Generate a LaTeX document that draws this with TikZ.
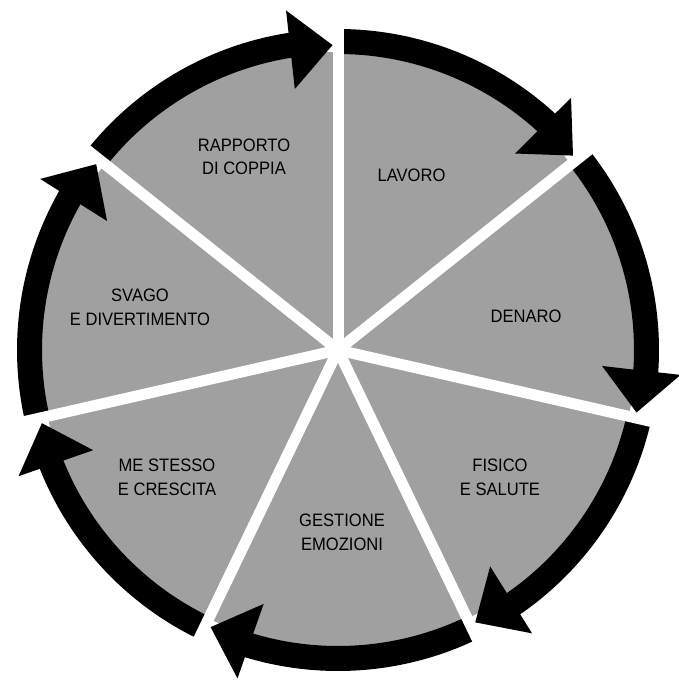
\documentclass[tikz,border=0pt]{standalone}
\usepackage{fontspec}
\setmainfont{Liberation Sans}[FakeStretch=0.92]
\usetikzlibrary{calc}
\definecolor{wedgegray}{RGB}{160,160,160}
\tikzset{
  lbl/.style={inner sep=0pt, align=center, text=black,
    font=\fontsize{18pt}{23.5pt}\selectfont},
  band/.style={fill=black},
  gapline/.style={draw=white, line width=11pt},
}
\begin{document}
\begin{tikzpicture}[x=1pt,y=1pt]
\useasboundingbox (0,0) rectangle (679,-683);
\coordinate (C) at (338,-350);
\fill[wedgegray] (C) circle[radius=298pt];
% black bands
\foreach \k in {0,...,6} {
  \pgfmathsetmacro{\a}{90-\k*360/7}
  \pgfmathsetmacro{\e}{\a-360/7+7}
  \fill[band] ($(C)+(\a:321pt)$) arc[start angle=\a, end angle=\e, radius=321pt]
     -- ($(C)+(\e:296pt)$) arc[start angle=\e, end angle=\a, radius=296pt] -- cycle;
}
% white gaps
\foreach \k in {0,...,6} {
  \pgfmathsetmacro{\a}{90-\k*360/7}
  \coordinate (G\k) at ($(C)+(\a:345pt)$);
  \draw[gapline] (C) -- (G\k);
}
% arrow heads
\foreach \k in {0,...,6} {
  \pgfmathsetmacro{\b}{90-(\k+1)*360/7}
  \coordinate (T\k) at ($(C)+(\b+1.03:305pt)$);
  \coordinate (M\k) at ($(C)+(\b+9:304pt)$);
  \fill[band] (T\k) -- ($(M\k)!39.5pt!90:(T\k)$) -- ($(M\k)!39.5pt!-90:(T\k)$) -- cycle;
}
\node[lbl] (rap) at (244,-157) {RAPPORTO\\DI COPPIA};
\node[lbl] (lav) at (411.5,-175) {LAVORO};
\node[lbl] (den) at (526,-316) {DENARO};
\node[lbl] (sva) at (140,-307.5) {SVAGO\\E DIVERTIMENTO};
\node[lbl] (mes) at (167,-477.5) {ME STESSO\\E CRESCITA};
\node[lbl] (fis) at (500,-477.5) {FISICO\\E SALUTE};
\node[lbl] (ges) at (342,-532.5) {GESTIONE\\EMOZIONI};
\end{tikzpicture}
\end{document}
